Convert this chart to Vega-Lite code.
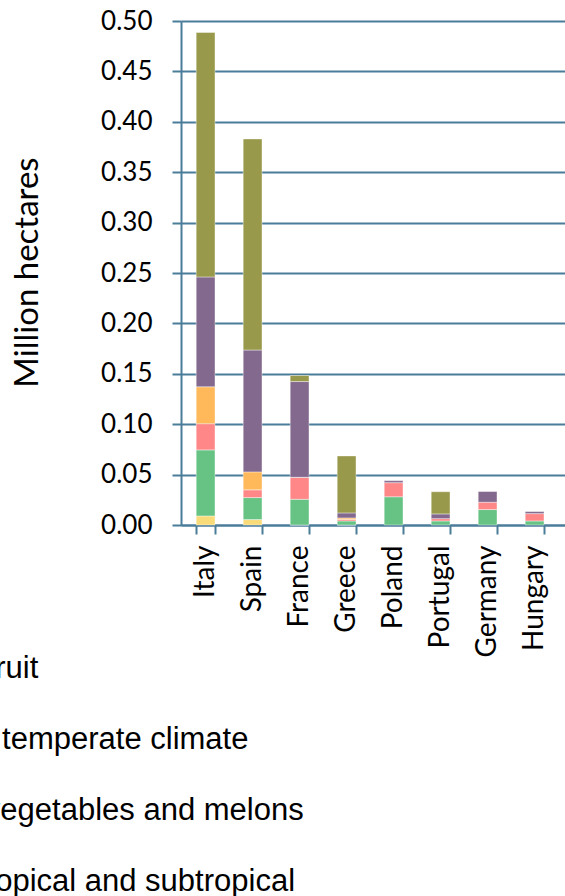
{
  "$schema": "https://vega.github.io/schema/vega-lite/v6.json",
  "autosize": "none",
  "width": 384,
  "height": 504,
  "padding": {"left": 181, "top": 21, "right": 0, "bottom": 371},
  "background": "white",
  "config": {"view": {"stroke": null}},
  "data": {
    "values": [
      {"country": "Italy", "crop": "Fruit, tropical and subtropical", "value": 0.009},
      {"country": "Italy", "crop": "Fruit of temperate climate", "value": 0.0655},
      {"country": "Italy", "crop": "Fresh vegetables and melons", "value": 0.026},
      {"country": "Italy", "crop": "Citrus fruit", "value": 0.0366},
      {"country": "Italy", "crop": "Grapes", "value": 0.109},
      {"country": "Italy", "crop": "Olives", "value": 0.2425},
      {"country": "Spain", "crop": "Fruit, tropical and subtropical", "value": 0.0054},
      {"country": "Spain", "crop": "Fruit of temperate climate", "value": 0.0218},
      {"country": "Spain", "crop": "Fresh vegetables and melons", "value": 0.0077},
      {"country": "Spain", "crop": "Citrus fruit", "value": 0.0178},
      {"country": "Spain", "crop": "Grapes", "value": 0.1209},
      {"country": "Spain", "crop": "Olives", "value": 0.2094},
      {"country": "France", "crop": "Fruit, tropical and subtropical", "value": 0.0},
      {"country": "France", "crop": "Fruit of temperate climate", "value": 0.0255},
      {"country": "France", "crop": "Fresh vegetables and melons", "value": 0.0218},
      {"country": "France", "crop": "Citrus fruit", "value": 0.0},
      {"country": "France", "crop": "Grapes", "value": 0.095},
      {"country": "France", "crop": "Olives", "value": 0.006},
      {"country": "Greece", "crop": "Fruit, tropical and subtropical", "value": 0.0},
      {"country": "Greece", "crop": "Fruit of temperate climate", "value": 0.004},
      {"country": "Greece", "crop": "Fresh vegetables and melons", "value": 0.0015},
      {"country": "Greece", "crop": "Citrus fruit", "value": 0.0015},
      {"country": "Greece", "crop": "Grapes", "value": 0.005},
      {"country": "Greece", "crop": "Olives", "value": 0.0565},
      {"country": "Poland", "crop": "Fruit of temperate climate", "value": 0.028},
      {"country": "Poland", "crop": "Fresh vegetables and melons", "value": 0.014},
      {"country": "Poland", "crop": "Grapes", "value": 0.002},
      {"country": "Portugal", "crop": "Fruit of temperate climate", "value": 0.004},
      {"country": "Portugal", "crop": "Fresh vegetables and melons", "value": 0.0023},
      {"country": "Portugal", "crop": "Grapes", "value": 0.0047},
      {"country": "Portugal", "crop": "Olives", "value": 0.022},
      {"country": "Germany", "crop": "Fruit of temperate climate", "value": 0.0153},
      {"country": "Germany", "crop": "Fresh vegetables and melons", "value": 0.0073},
      {"country": "Germany", "crop": "Grapes", "value": 0.0106},
      {"country": "Hungary", "crop": "Fruit of temperate climate", "value": 0.004},
      {"country": "Hungary", "crop": "Fresh vegetables and melons", "value": 0.0073},
      {"country": "Hungary", "crop": "Grapes", "value": 0.002}
    ]
  },
  "transform": [
    {"calculate": "indexof(['Fruit, tropical and subtropical','Fruit of temperate climate','Fresh vegetables and melons','Citrus fruit','Grapes','Olives'], datum.crop)", "as": "stackRank"}
  ],
  "mark": {"type": "bar", "stroke": "#ffffff", "strokeOpacity": 0.5, "strokeWidth": 0.8},
  "encoding": {
    "x": {
      "field": "country",
      "type": "nominal",
      "sort": ["Italy", "Spain", "France", "Greece", "Poland", "Portugal", "Germany", "Hungary"],
      "scale": {"paddingInner": 0.6, "paddingOuter": 0.385, "align": 0.42},
      "axis": {
        "title": null,
        "labelAngle": -90,
        "labelFont": "Lato",
        "labelFontSize": 28,
        "labelColor": "#000000",
        "labelPadding": 11,
        "tickBand": "extent",
        "tickSize": 9,
        "tickWidth": 2,
        "tickColor": "#4B7C99",
        "domainColor": "#4B7C99",
        "domainWidth": 2,
        "grid": false
      }
    },
    "y": {
      "field": "value",
      "type": "quantitative",
      "stack": "zero",
      "scale": {"domain": [0, 0.5], "nice": false},
      "axis": {
        "title": "Million hectares",
        "titleFont": "Lato",
        "titleFontSize": 33,
        "titleFontWeight": "normal",
        "titleColor": "#000000",
        "titleX": -154,
        "titleY": 251,
        "titleAlign": "center",
        "titleBaseline": "middle",
        "values": [0, 0.05, 0.1, 0.15, 0.2, 0.25, 0.3, 0.35, 0.4, 0.45, 0.5],
        "format": ".2f",
        "labelFont": "Lato",
        "labelFontSize": 26,
        "labelColor": "#000000",
        "labelPadding": 20,
        "tickSize": 9,
        "tickWidth": 2,
        "tickColor": "#4B7C99",
        "domainColor": "#4B7C99",
        "domainWidth": 2,
        "grid": true,
        "gridColor": "#4B7C99",
        "gridWidth": 2,
        "gridOpacity": 1
      }
    },
    "color": {
      "field": "crop",
      "type": "nominal",
      "scale": {
        "domain": ["Citrus fruit", "Fruit of temperate climate", "Fresh vegetables and melons", "Fruit, tropical and subtropical", "Grapes", "Olives"],
        "range": ["#FFB85A", "#66C384", "#FF8787", "#F9DB79", "#84698F", "#98994A"]
      },
      "legend": {
        "orient": "none",
        "legendX": -320,
        "legendY": 632,
        "direction": "vertical",
        "title": null,
        "padding": 0,
        "labelFont": "Liberation Sans",
        "labelFontSize": 31,
        "labelColor": "#000000",
        "labelLimit": 1000,
        "labelOffset": 5,
        "symbolType": "square",
        "symbolSize": 100,
        "rowPadding": 39
      }
    },
    "order": {"field": "stackRank", "type": "quantitative", "sort": "ascending"}
  }
}
